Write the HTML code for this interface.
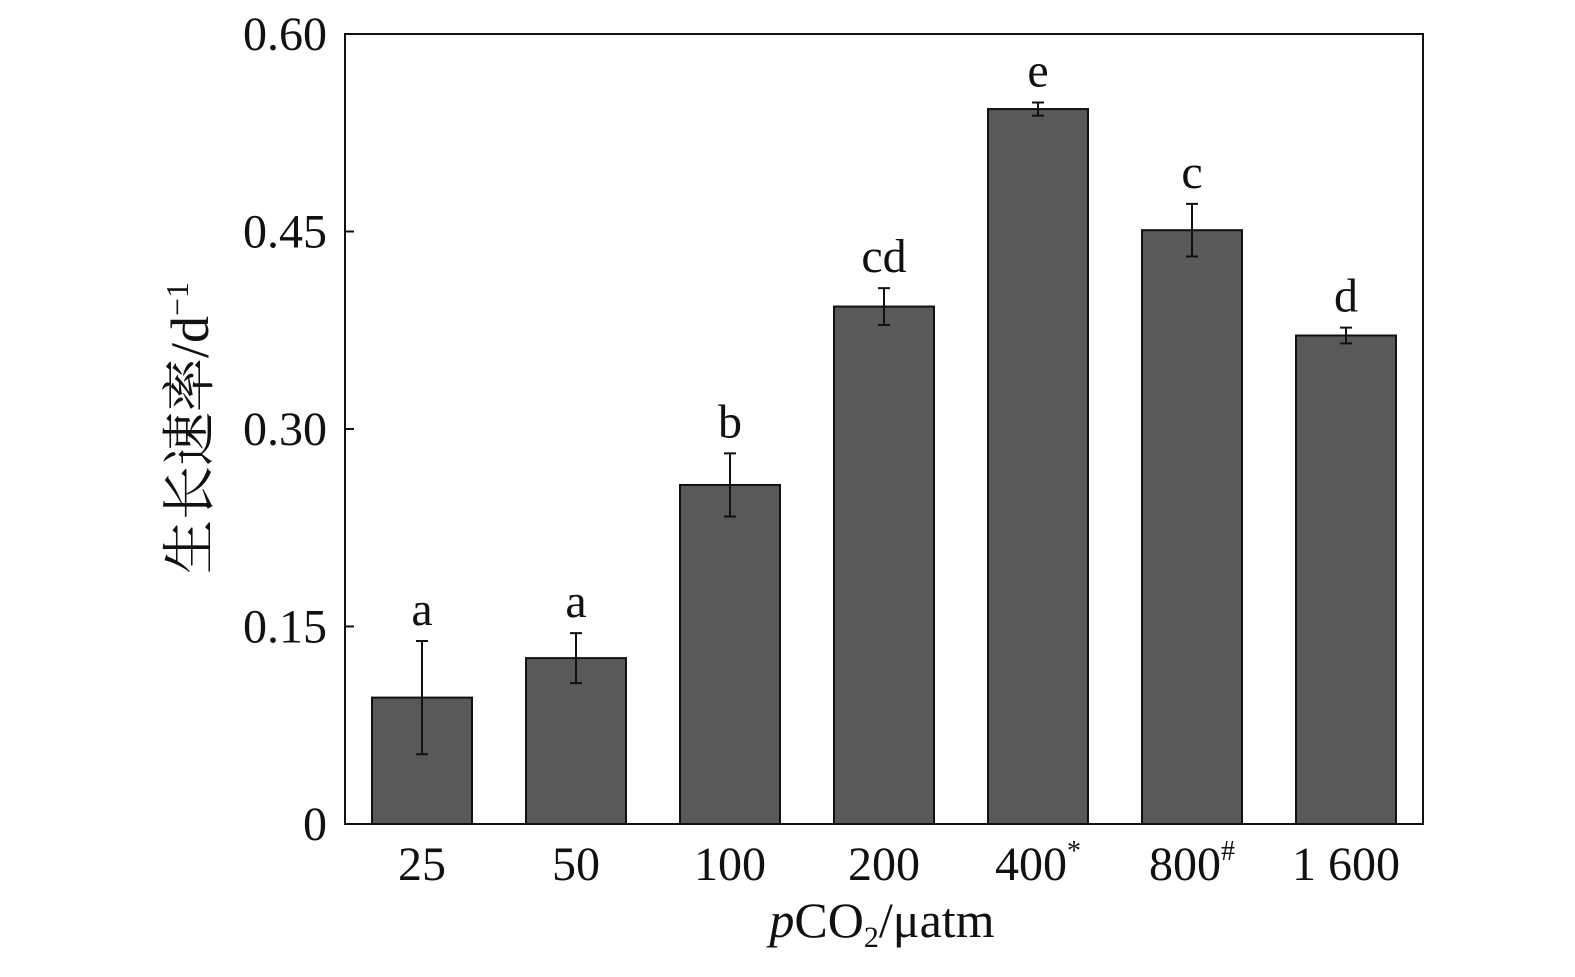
<!DOCTYPE html>
<html><head><meta charset="utf-8"><style>
body{margin:0;background:#fff}
svg text{font-family:"Liberation Serif","Noto Serif CJK SC",serif;fill:#111}
</style></head><body>
<svg width="1575" height="972">
<g id="plot"></g>
</svg>
<script>
const categories=["25","50","100","200","400","800","1 600"];
const sups=["","","","","*","#",""];
const values=[0.096,0.126,0.2575,0.393,0.543,0.451,0.371];
const errors=[0.043,0.019,0.024,0.014,0.005,0.02,0.006];
const letters=["a","a","b","cd","e","c","d"];
const yTicks=[0,0.15,0.30,0.45,0.60];
const yTickLabels=["0","0.15","0.30","0.45","0.60"];
const L=345,R=1423,T=34,B=824,ymax=0.6;
const y=v=>B-(v/ymax)*(B-T);
const band=(R-L)/categories.length;
const x=i=>L+band*(i+0.5);
const g=document.getElementById('plot');
const NS="http://www.w3.org/2000/svg";
function mk(t,a,txt){const e=document.createElementNS(NS,t);for(const k in a)e.setAttribute(k,a[k]);if(txt!=null)e.textContent=txt;g.appendChild(e);return e;}
let fr=mk('rect',{x:L,y:T,width:R-L,height:B-T,fill:'none',stroke:'#111','stroke-width':2});


yTicks.forEach((v,i)=>{
 let t=mk('line',{x1:L,x2:L+9,y1:y(v),y2:y(v),stroke:'#111','stroke-width':2});
 
 
 let l=mk('text',{x:L-18,y:y(v)+16,'text-anchor':'end','font-size':48},yTickLabels[i]);
 
 
});
const bw=100;
categories.forEach((c,i)=>{
 const cx=x(i);
 let b=mk('rect',{x:cx-bw/2,y:y(values[i]),width:bw,height:B-y(values[i]),fill:'#595959',stroke:'#111','stroke-width':2});
 
 
 const et=y(values[i]+errors[i]),eb=y(values[i]-errors[i]);
 let e=mk('path',{d:`M${cx},${et}V${eb}M${cx-6},${et}H${cx+6}M${cx-6},${eb}H${cx+6}`,stroke:'#111','stroke-width':2,fill:'none'});
 
 
 let lt=mk('text',{x:cx,y:et-16,'text-anchor':'middle','font-size':48},letters[i]);
 
 
 let xl=mk('text',{x:cx,y:880,'text-anchor':'middle','font-size':48},c);
 if(sups[i]){const ts=document.createElementNS(NS,'tspan');ts.setAttribute('font-size',28);ts.setAttribute('dy',-20);ts.textContent=sups[i];xl.appendChild(ts);}
 
 
});
let xt=mk('text',{x:882,y:937,'text-anchor':'middle','font-size':50});
xt.innerHTML='<tspan font-style="italic">p</tspan>CO<tspan font-size="30" dy="10">2</tspan><tspan dy="-10">/μatm</tspan>';


let yt=mk('text',{x:0,y:0,'text-anchor':'middle','font-size':54,transform:'translate(208,428) rotate(-90)'});
yt.innerHTML='生长速率/d<tspan font-size="32" dy="-20">−1</tspan>';


</script>
</body></html>
